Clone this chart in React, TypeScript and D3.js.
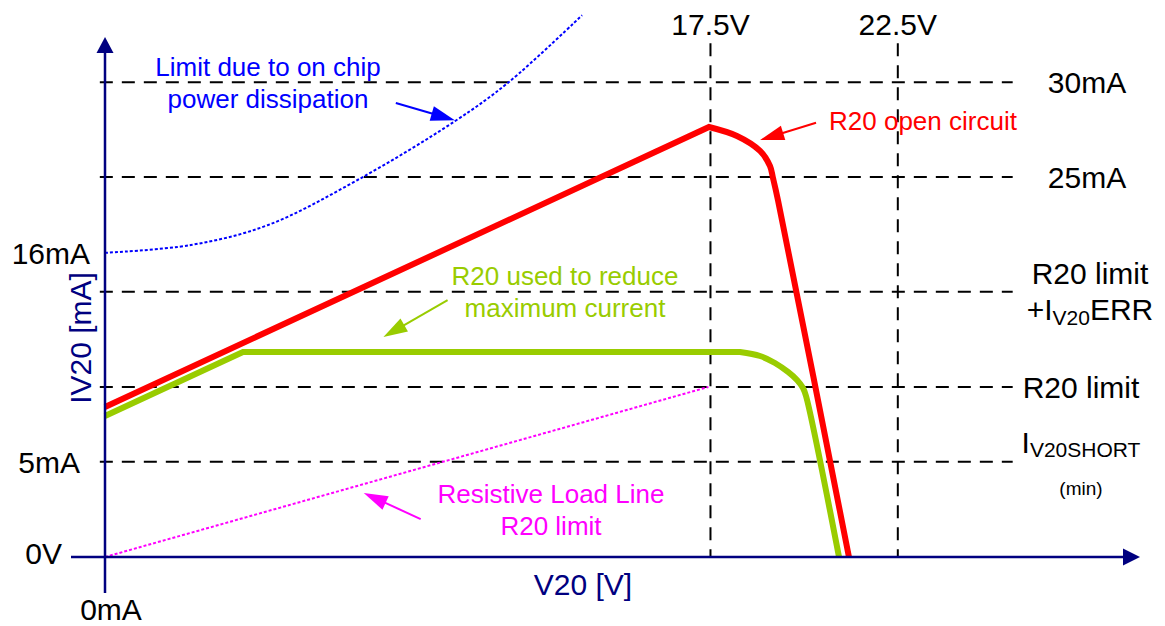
import React from "react";
import * as d3 from "d3";

// ---- schematic data (abstract units: x 0..100 along V20, y 0..100 along IV20) ----
const hGuideValues = [91.3, 73.1, 51.0, 32.7, 18.3];
const vGuideValues = [58.5, 76.6];
const vGuideLabels = ["17.5V", "22.5V"];
const yTickValues = [58.5, 18.3, 0];
const yTickLabels = ["16mA", "5mA", "0V"];

const redLinearPart: [number, number][] = [[0, 28.85], [58.36, 82.69]];
const redCurvedPart: [number, number][] = [
  [58.36, 82.69], [61.06, 80.96], [63.29, 78.08], [64.25, 75.19], [64.54, 72.88], [65.02, 68.65], [71.88, 0],
];
const greenLinearPart: [number, number][] = [[0, 27.12], [13.33, 39.42], [61.35, 39.42]];
const greenCurvedPart: [number, number][] = [
  [61.35, 39.42], [63.29, 38.65], [64.73, 37.31], [65.99, 35.58], [66.86, 34.04], [67.44, 32.5], [67.73, 30.96], [70.92, 0],
];
const powerLimitCurve: [number, number][] = [
  [0, 58.5], [8.3, 60.0], [15.7, 63.8], [24.4, 72.5], [33.8, 83.8], [39.0, 91.3], [46.1, 104.2],
];
const resistiveLoadLine: [number, number][] = [[0, 0], [58.3, 32.7]];

const W = 1165;
const H = 626;
const FONT = "'Liberation Sans', Arial, Helvetica, sans-serif";
const NAVY = "#000080";
const RED = "#FF0000";
const GREEN = "#99CC00";
const BLUE = "#0000FF";
const MAGENTA = "#FF00FF";

const x = d3.scaleLinear().domain([0, 100]).range([105, 1140]);
const y = d3.scaleLinear().domain([0, 100]).range([557, 37]);

const lin = d3.line<[number, number]>().x(d => x(d[0])).y(d => y(d[1]));
const crv = d3
  .line<[number, number]>()
  .x(d => x(d[0]))
  .y(d => y(d[1]))
  .curve(d3.curveCatmullRom.alpha(0.5));

function joined(a: [number, number][], b: [number, number][]) {
  const p1 = lin(a) || "";
  const p2 = (crv(b) || "").replace(/^M[^A-Za-z]*/, "");
  return p1 + p2;
}

function Arrow({ from, to, color, head = 24, half = 7.5, width = 2 }: any) {
  const x1 = x(from[0]), y1 = y(from[1]), x2 = x(to[0]), y2 = y(to[1]);
  const dx = x2 - x1, dy = y2 - y1;
  const len = Math.hypot(dx, dy);
  const ux = dx / len, uy = dy / len;
  const bx = x2 - ux * head, by = y2 - uy * head;
  const pts = [
    [x2, y2],
    [bx - uy * half, by + ux * half],
    [bx + uy * half, by - ux * half],
  ];
  return (
    <g>
      <line x1={x1} y1={y1} x2={bx + ux * 2} y2={by + uy * 2} stroke={color} strokeWidth={width} />
      <polygon points={pts.map(p => p.join(",")).join(" ")} fill={color} />
    </g>
  );
}

export default function App() {
  const axisX0 = x(0), axisY0 = y(0);
  return (
    <svg
      width={W}
      height={H}
      style={{ position: "absolute", left: 0, top: 0, background: "#fff" }}
      fontFamily={FONT}
    >
      <defs>
        <clipPath id="aboveAxis">
          <rect x={0} y={0} width={W} height={axisY0} />
        </clipPath>
      </defs>

      {/* horizontal guides */}
      {hGuideValues.map((v, i) => (
        <line key={"h" + i} x1={x(-0.5)} x2={x(87.7)} y1={y(v)} y2={y(v)}
          stroke="#000" strokeWidth={2} strokeDasharray="13,9" />
      ))}
      {/* vertical guides */}
      {vGuideValues.map((v, i) => (
        <g key={"v" + i}>
          <line x1={x(v)} x2={x(v)} y1={y(98.8)} y2={y(0)} stroke="#000" strokeWidth={2} strokeDasharray="13,9" />
          <text x={x(v)} y={35} textAnchor="middle" fontSize={30} fill="#000">{vGuideLabels[i]}</text>
        </g>
      ))}

      {/* curves */}
      <path d={lin(resistiveLoadLine) || ""} fill="none" stroke={MAGENTA} strokeWidth={2} strokeDasharray="3,2" />
      <path d={crv(powerLimitCurve) || ""} fill="none" stroke={BLUE} strokeWidth={2} strokeDasharray="3,2" />
      <g clipPath="url(#aboveAxis)">
        <path d={joined(greenLinearPart, greenCurvedPart)} fill="none" stroke={GREEN} strokeWidth={6} />
        <path d={joined(redLinearPart, redCurvedPart)} fill="none" stroke={RED} strokeWidth={6} />
      </g>

      {/* axes */}
      <line x1={axisX0} x2={axisX0} y1={593} y2={y(100) + 14} stroke={NAVY} strokeWidth={2.5} />
      <polygon points={`${axisX0},${y(100)} ${axisX0 - 8.5},${y(100) + 16} ${axisX0 + 8.5},${y(100) + 16}`} fill={NAVY} />
      <line x1={71} x2={x(100) - 15} y1={axisY0} y2={axisY0} stroke={NAVY} strokeWidth={2.5} />
      <polygon points={`${x(100)},${axisY0} ${x(100) - 17},${axisY0 - 8.5} ${x(100) - 17},${axisY0 + 8.5}`} fill={NAVY} />

      {/* y tick labels */}
      <text x={90} y={y(yTickValues[0]) + 11} textAnchor="end" fontSize={30}>{yTickLabels[0]}</text>
      <text x={80} y={y(yTickValues[1]) + 11} textAnchor="end" fontSize={30}>{yTickLabels[1]}</text>
      <text x={62} y={y(yTickValues[2]) + 7} textAnchor="end" fontSize={30}>{yTickLabels[2]}</text>
      <text x={111} y={620} textAnchor="middle" fontSize={30}>0mA</text>

      {/* axis titles */}
      <text x={583} y={595} textAnchor="middle" fontSize={30} fill={NAVY}>V20 [V]</text>
      <text transform="translate(91,338) rotate(-90)" textAnchor="middle" fontSize={30} fill={NAVY}>IV20 [mA]</text>

      {/* right labels */}
      <text x={1087} y={y(hGuideValues[0]) + 11} textAnchor="middle" fontSize={30}>30mA</text>
      <text x={1087} y={y(hGuideValues[1]) + 11} textAnchor="middle" fontSize={30}>25mA</text>
      <text x={1090} y={284} textAnchor="middle" fontSize={30}>R20 limit</text>
      <text x={1090} y={320} textAnchor="middle" fontSize={30}>
        +I<tspan fontSize={21} dy={5}>V20</tspan><tspan dy={-5}>ERR</tspan>
      </text>
      <text x={1081} y={y(hGuideValues[3]) + 11} textAnchor="middle" fontSize={30}>R20 limit</text>
      <text x={1081} y={453} textAnchor="middle" fontSize={30}>
        I<tspan fontSize={21} dy={4}>V20SHORT</tspan>
      </text>
      <text x={1081} y={495} textAnchor="middle" fontSize={19}>(min)</text>

      {/* annotations */}
      <text x={268} y={76} textAnchor="middle" fontSize={26} fill={BLUE}>Limit due to on chip</text>
      <text x={268} y={108} textAnchor="middle" fontSize={26} fill={BLUE}>power dissipation</text>
      <Arrow from={[28.1, 87.3]} to={[33.8, 84.0]} color={BLUE} />

      <text x={829} y={130} textAnchor="start" fontSize={26} fill={RED}>R20 open circuit</text>
      <Arrow from={[68.7, 83.5]} to={[63.3, 80.2]} color={RED} />

      <text x={565} y={285} textAnchor="middle" fontSize={26} fill={GREEN}>R20 used to reduce</text>
      <text x={565} y={317} textAnchor="middle" fontSize={26} fill={GREEN}>maximum current</text>
      <Arrow from={[33.1, 49.4]} to={[26.9, 42.3]} color={GREEN} />

      <text x={551} y={503} textAnchor="middle" fontSize={26} fill={MAGENTA}>Resistive Load Line</text>
      <text x={551} y={535} textAnchor="middle" fontSize={26} fill={MAGENTA}>R20 limit</text>
      <Arrow from={[30.5, 7.3]} to={[25.0, 12.3]} color={MAGENTA} />
    </svg>
  );
}
